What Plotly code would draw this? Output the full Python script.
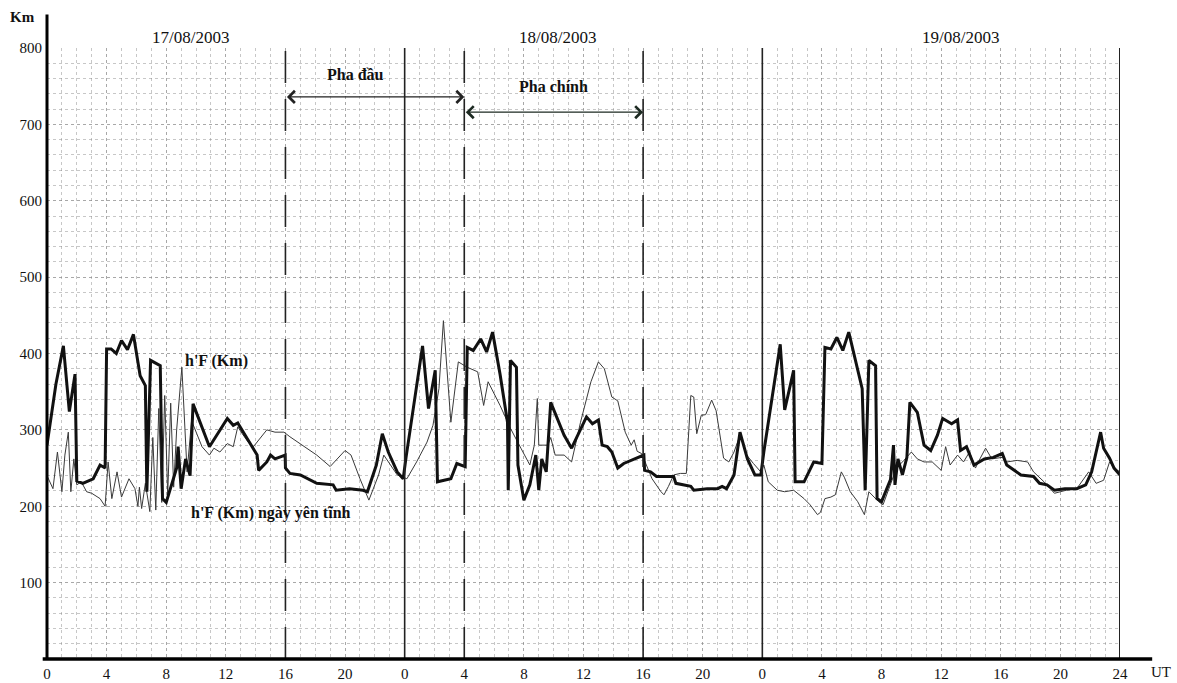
import plotly.graph_objects as go

# hours since 00 UT 17/08/2003
storm_t = [0.0, 0.6, 1.1, 1.5, 1.88, 2.0, 2.4, 3.1, 3.56, 3.9, 4.0, 4.3, 4.65, 5.0, 5.4, 5.8, 6.25, 6.6, 6.7,
           6.95, 7.6, 7.75, 8.0, 8.7, 8.8, 9.0, 9.3, 9.6, 9.8, 10.9, 12.1, 12.5, 12.8, 13.4, 14.1, 14.2, 14.75,
           15.0, 15.3, 15.98, 16.0, 16.3, 17.0, 18.1, 19.2, 19.4, 20.3, 21.2, 21.5, 22.1, 22.5, 22.9, 23.5, 23.9,
           24.1, 25.2, 25.6, 26.05, 26.2, 27.1, 27.5, 28.06, 28.2, 28.6, 29.1, 29.5, 29.9, 30.4, 30.9, 30.95,
           31.1, 31.5, 31.6, 32.0, 32.4, 32.8, 32.9, 33.0, 33.2, 33.5, 33.8, 34.7, 35.2, 35.9, 36.2, 36.6, 37.0,
           37.25, 37.6, 37.9, 38.3, 38.7, 39.2, 40.05, 40.1, 40.5, 40.9, 42.05, 42.2, 43.2, 43.4, 44.3, 45.0,
           45.3, 45.6, 46.1, 46.5, 46.75, 47.0, 47.5, 47.9, 48.1, 49.2, 49.5, 50.1, 50.2, 50.8, 51.45, 52.0,
           52.2, 52.6, 53.0, 53.4, 53.8, 54.4, 54.7, 54.9, 55.15, 55.6, 55.7, 56.0, 56.6, 56.8, 56.9, 57.1,
           57.4, 57.7, 57.9, 58.4, 58.85, 59.3, 59.75, 60.1, 60.7, 61.1, 61.3, 61.7, 62.2, 62.9, 63.5, 64.1,
           64.4, 65.35, 66.2, 66.6, 67.1, 67.6, 68.3, 69.1, 69.7, 70.1, 70.7, 70.9, 71.3, 71.6, 72.0]
storm_h = [280, 360, 410, 324, 373, 233, 230, 236, 254, 250, 406, 406, 400, 417, 405, 425, 371, 358, 219,
           391, 384, 210, 205, 250, 278, 223, 262, 240, 334, 278, 315, 306, 309, 289, 267, 247, 258,
           267, 262, 267, 250, 243, 241, 230, 228, 221, 223, 221, 219, 254, 295, 271, 245, 236,
           265, 410, 328, 378, 232, 236, 256, 252, 408, 404, 419, 402, 428, 373, 310, 221,
           391, 382, 254, 208, 228, 267, 240, 221, 262, 245, 336, 293, 276, 306, 317, 308, 313,
           280, 278, 271, 250, 256, 260, 267, 247, 245, 239, 239, 230, 226, 221, 223, 223,
           226, 223, 241, 297, 280, 262, 241, 241, 271, 412, 326, 378, 232, 232, 258, 256,
           408, 406, 421, 404, 428, 376, 354, 221, 391, 384, 210, 206, 235, 280, 228, 262,
           241, 264, 336, 323, 280, 273, 293, 315, 308, 313, 273, 278, 254, 262, 264, 269,
           254, 241, 239, 230, 228, 221, 223, 223, 228, 245, 297, 276, 263, 250, 241]

quiet_t = [0.0, 0.4, 0.7, 1.0, 1.2, 1.43, 1.6, 1.8, 2.0, 2.3, 2.66, 3.0, 3.56, 3.9, 4.1, 4.35, 4.7, 5.0, 5.5,
           5.9, 6.1, 6.2, 6.35, 6.6, 6.9, 7.1, 7.3, 7.5, 7.7, 7.9, 8.1, 8.3, 8.5, 8.7, 9.05, 9.4, 9.7, 10.2,
           10.4, 10.9, 11.2, 11.6, 12.1, 12.5, 12.8, 13.1, 13.5, 13.85, 14.2, 14.75, 15.3, 15.9, 16.3, 17.0,
           18.1, 19.0, 19.4, 20.0, 20.4, 21.0, 21.6, 22.25, 22.6, 23.0, 23.5, 24.15, 24.8, 25.5, 25.9, 26.3,
           26.6, 27.1, 27.6, 28.2, 28.9, 29.3, 29.6, 30.4, 31.1, 31.8, 32.4, 32.7, 32.9, 33.0, 33.6, 33.8,
           34.1, 34.7, 35.2, 35.8, 36.5, 37.0, 37.4, 37.9, 38.3, 38.8, 39.2, 39.4, 39.6, 39.9, 40.3, 40.6,
           41.2, 41.4, 41.7, 42.05, 42.5, 42.9, 43.2, 43.4, 43.6, 43.9, 44.2, 44.6, 44.9, 45.4, 45.75, 46.1,
           46.5, 46.95, 47.4, 47.9, 48.1, 48.4, 49.0, 49.5, 50.1, 50.8, 51.2, 51.7, 51.9, 52.2, 52.6, 52.9,
           53.3, 53.5, 53.9, 54.4, 54.85, 55.15, 55.5, 55.8, 56.1, 56.6, 57.0, 57.5, 58.0, 58.4, 58.85, 59.4,
           60.0, 60.3, 60.6, 61.1, 61.5, 61.9, 62.3, 62.6, 62.98, 63.4, 63.9, 64.1, 64.4, 65.1, 65.8, 66.2,
           66.9, 67.6, 68.4, 69.1, 69.9, 70.4, 70.9, 71.3, 71.6, 72.0]
quiet_h = [240, 223, 271, 219, 267, 297, 219, 262, 228, 232, 219, 217, 210, 200, 258, 210, 245, 212, 236,
           223, 200, 225, 197, 230, 193, 290, 195, 328, 205, 345, 215, 335, 225, 300, 382, 245, 312, 289,
           278, 267, 276, 271, 282, 278, 304, 295, 284, 278, 286, 300, 297, 297, 291, 282,
           267, 252, 260, 273, 267, 236, 208, 241, 267, 255, 241, 236, 258, 284, 306, 354,
           443, 310, 389, 382, 376, 332, 363, 332, 302, 276, 254, 280, 341, 280, 280, 290,
           267, 267, 258, 310, 363, 389, 380, 343, 338, 297, 280, 287, 272, 269, 250, 236,
           219, 215, 226, 241, 243, 243, 345, 343, 295, 319, 320, 339, 325, 263, 258, 271,
           293, 267, 256, 245, 254, 232, 221, 219, 221, 210, 202, 189, 192, 210, 212, 215,
           245, 238, 219, 206, 189, 219, 212, 206, 202, 230, 250, 260, 271, 262, 258, 258,
           247, 278, 254, 267, 258, 271, 250, 262, 276, 262, 264, 264, 258, 260, 258, 245,
           232, 217, 221, 223, 245, 230, 234, 258, 250, 245]

x_tickvals = [0, 4, 8, 12, 16, 20, 24, 28, 32, 36, 40, 44, 48, 52, 56, 60, 64, 68, 72]
x_ticktext = ["0", "4", "8", "12", "16", "20", "0", "4", "8", "12", "16", "20",
              "0", "4", "8", "12", "16", "20", "24"]
y_tickvals = [100, 200, 300, 400, 500, 600, 700, 800]
day_labels = ["17/08/2003", "18/08/2003", "19/08/2003"]
day_label_x = [9.6, 34.25, 61.3]
day_bounds = [24, 48]
phase_bounds = [16, 28, 40]

SERIF = "Liberation Serif, Times New Roman, serif"
GRID = "rgba(130,130,130,0.45)"

fig = go.Figure()
fig.add_trace(go.Scatter(x=quiet_t, y=quiet_h, mode="lines",
                         line=dict(color="#3a3a3a", width=1), showlegend=False))
fig.add_trace(go.Scatter(x=storm_t, y=storm_h, mode="lines",
                         line=dict(color="#111111", width=3), showlegend=False))

shapes = []
for d in day_bounds:
    shapes.append(dict(type="line", xref="x", yref="y", x0=d, x1=d, y0=0, y1=800,
                       line=dict(color="#222", width=1.6)))
shapes.append(dict(type="line", xref="x", yref="y", x0=72, x1=72, y0=0, y1=800,
                   line=dict(color="#222", width=2)))
for p in phase_bounds:
    shapes.append(dict(type="line", xref="x", yref="y", x0=p, x1=p, y0=0, y1=800,
                       line=dict(color="#222", width=1.6, dash="32px,16px")))
# axes lines
shapes.append(dict(type="line", xref="paper", yref="paper", x0=-0.004, x1=1.03, y0=0, y1=0,
                   line=dict(color="#000", width=3.5)))
shapes.append(dict(type="line", xref="paper", yref="paper", x0=0, x1=0, y0=0, y1=1.055,
                   line=dict(color="#000", width=3)))

annotations = []
for lbl, xx in zip(day_labels, day_label_x):
    annotations.append(dict(x=xx, y=1.0, xref="x", yref="paper", text=lbl, showarrow=False,
                            yanchor="middle", yshift=11,
                            font=dict(family=SERIF, size=17, color="#111")))
annotations += [
    dict(x=28, y=736, ax=16, ay=736, xref="x", yref="y", axref="x", ayref="y", text="",
         showarrow=True, arrowside="end+start", arrowhead=4, arrowsize=1.8, arrowwidth=1.3,
         arrowcolor="#222"),
    dict(x=40, y=716, ax=28, ay=716, xref="x", yref="y", axref="x", ayref="y", text="",
         showarrow=True, arrowside="end+start", arrowhead=4, arrowsize=1.8, arrowwidth=1.3,
         arrowcolor="#1d2a22"),
    dict(x=20.7, y=765, xref="x", yref="y", text="<b>Pha đầu</b>", showarrow=False,
         font=dict(family=SERIF, size=16, color="#111")),
    dict(x=34.0, y=749, xref="x", yref="y", text="<b>Pha chính</b>", showarrow=False,
         font=dict(family=SERIF, size=16, color="#111")),
    dict(x=11.35, y=390, xref="x", yref="y", text="<b>h'F (Km)</b>", showarrow=False,
         font=dict(family=SERIF, size=16, color="#111")),
    dict(x=15.0, y=191, xref="x", yref="y", text="<b>h'F (Km) ngày yên tĩnh</b>", showarrow=False,
         font=dict(family=SERIF, size=16, color="#111")),
    dict(x=0.0, y=1.0, xref="paper", yref="paper", text="<b>Km</b>", showarrow=False,
         xanchor="right", yanchor="middle", xshift=-10, yshift=31,
         font=dict(family=SERIF, size=15, color="#111")),
    dict(x=1.0, y=0, xref="paper", yref="paper", text="UT", showarrow=False,
         xanchor="left", yanchor="middle", xshift=30, yshift=-13, borderpad=0,
         font=dict(family=SERIF, size=15, color="#111")),
]

fig.update_layout(
    width=1177, height=683,
    margin=dict(l=47, r=57, t=48, b=24),
    paper_bgcolor="white", plot_bgcolor="white",
    shapes=shapes, annotations=annotations,
    xaxis=dict(range=[0, 72], tickvals=x_tickvals, ticktext=x_ticktext, showline=False,
               zeroline=False, showgrid=True, gridcolor=GRID, griddash="dot", gridwidth=1,
               minor=dict(dtick=1, showgrid=True, gridcolor=GRID, griddash="dot", gridwidth=1),
               tickfont=dict(family=SERIF, size=15, color="#111"), ticks="",
               ticklabelstandoff=4, automargin=False),
    yaxis=dict(range=[0, 800], tickvals=y_tickvals, showline=False, zeroline=False,
               showgrid=True, gridcolor=GRID, griddash="dot", gridwidth=1,
               minor=dict(dtick=20, showgrid=True, gridcolor=GRID, griddash="dot", gridwidth=1),
               tickfont=dict(family=SERIF, size=15, color="#111"), ticks="",
               ticklabelstandoff=4, automargin=False),
)

# remove the default page margin so the figure sits at the window's top-left corner
fig.write_html("out.html", config={"displayModeBar": False},
               post_script="document.body.style.margin='0';")
